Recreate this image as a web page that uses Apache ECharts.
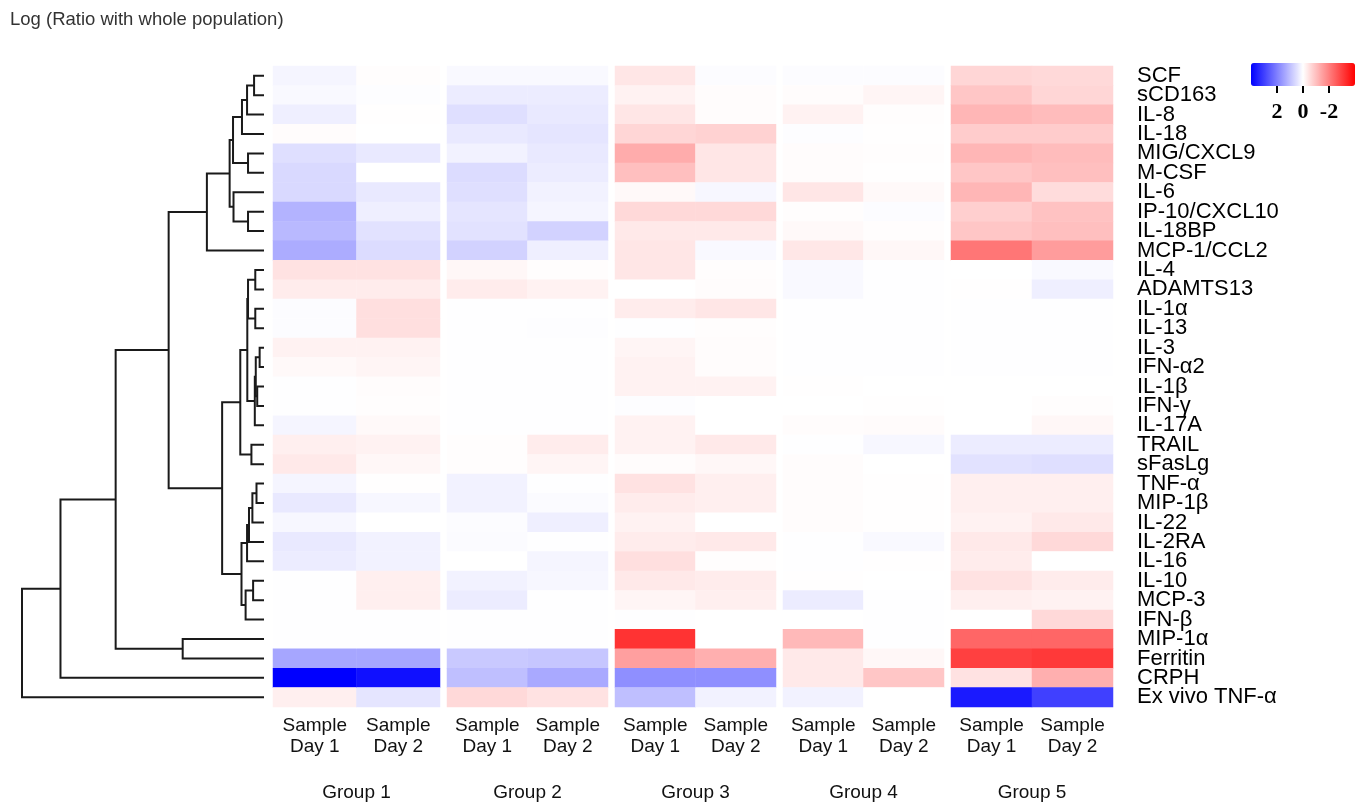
<!DOCTYPE html>
<html>
<head>
<meta charset="utf-8">
<script src="https://cdn.jsdelivr.net/npm/echarts@6/dist/echarts.min.js"></script>
<style>
  html, body { margin: 0; padding: 0; background: #ffffff; }
  #chart { width: 1363px; height: 806px; }
</style>
</head>
<body>
<div id="chart"></div>
<script>
// Analytes, top to bottom (dendrogram leaf order)
const markers = [
  'SCF', 'sCD163', 'IL-8', 'IL-18', 'MIG/CXCL9', 'M-CSF', 'IL-6', 'IP-10/CXCL10',
  'IL-18BP', 'MCP-1/CCL2', 'IL-4', 'ADAMTS13', 'IL-1α', 'IL-13', 'IL-3', 'IFN-α2',
  'IL-1β', 'IFN-γ', 'IL-17A', 'TRAIL', 'sFasLg', 'TNF-α', 'MIP-1β', 'IL-22',
  'IL-2RA', 'IL-16', 'IL-10', 'MCP-3', 'IFN-β', 'MIP-1α', 'Ferritin', 'CRPH',
  'Ex vivo TNF-α'
];
const sampleLabels = ['Sample\nDay 1', 'Sample\nDay 2'];
const groupNames = ['Group 1', 'Group 2', 'Group 3', 'Group 4', 'Group 5'];

// Log ratio with whole population, one array per sample column (same order as markers)
const group1Day1 = [0.15, 0.1, 0.25, -0.05, 0.5, 0.6, 0.6, 1.2, 1.1, 1.3, -0.45, -0.3, 0.05, 0.04, -0.2, -0.1, 0.02, 0.02, 0.15, -0.25, -0.35, 0.15, 0.35, 0.12, 0.35, 0.3, 0.02, 0.02, 0.02, 0.02, 1.4, 4.0, -0.25];
const group1Day2 = [-0.03, 0.03, -0.02, 0.0, 0.35, 0.0, 0.35, 0.25, 0.45, 0.55, -0.45, -0.3, -0.5, -0.5, -0.2, -0.15, -0.05, -0.03, -0.1, -0.2, -0.12, -0.01, 0.12, 0.0, 0.2, 0.2, -0.25, -0.25, 0.02, 0.02, 1.4, 3.75, 0.4];
const group2Day1 = [0.1, 0.3, 0.5, 0.35, 0.2, 0.55, 0.5, 0.4, 0.45, 0.7, -0.12, -0.3, 0.02, 0.02, 0.02, 0.02, 0.02, 0.01, 0.02, -0.03, -0.03, 0.2, 0.2, 0.05, 0.07, 0.0, 0.2, 0.3, 0.02, 0.02, 0.85, 1.0, -0.6];
const group2Day2 = [0.1, 0.3, 0.35, 0.4, 0.35, 0.3, 0.2, 0.15, 0.7, 0.25, -0.03, -0.2, 0.02, 0.03, 0.02, 0.02, 0.02, 0.01, 0.02, -0.3, -0.15, 0.02, 0.07, 0.25, 0.02, 0.15, 0.12, 0.02, 0.02, 0.02, 0.9, 1.35, -0.45];
const group3Day1 = [-0.4, -0.2, -0.4, -0.65, -1.3, -1.0, -0.1, -0.6, -0.35, -0.4, -0.4, 0.0, -0.3, 0.02, -0.15, -0.2, -0.2, 0.03, -0.2, -0.2, -0.05, -0.45, -0.3, -0.2, -0.3, -0.5, -0.35, -0.15, 0.02, -3.2, -1.5, 1.75, 1.0];
const group3Day2 = [0.05, -0.05, -0.05, -0.7, -0.4, -0.4, 0.12, -0.6, -0.35, 0.1, -0.03, -0.05, -0.4, -0.03, -0.05, -0.05, -0.2, 0.0, 0.0, -0.35, -0.12, -0.25, -0.25, 0.0, -0.35, -0.03, -0.3, -0.25, 0.0, 0.0, -1.25, 1.75, 0.2];
const group4Day1 = [0.05, -0.05, -0.2, 0.03, -0.05, -0.05, -0.4, -0.03, -0.1, -0.38, 0.1, 0.1, 0.02, 0.02, 0.02, 0.02, -0.02, 0.0, -0.04, 0.02, -0.05, -0.04, -0.04, -0.04, 0.02, 0.02, -0.02, 0.3, 0.0, -1.1, -0.35, -0.35, 0.2];
const group4Day2 = [0.05, -0.15, -0.03, -0.02, -0.03, -0.02, -0.1, 0.04, -0.03, -0.12, 0.02, 0.02, 0.02, 0.02, 0.02, 0.02, 0.0, -0.02, -0.06, 0.12, 0.0, -0.02, -0.02, -0.02, 0.1, -0.02, 0.0, 0.02, 0.02, 0.02, -0.12, -0.9, 0.0];
const group5Day1 = [-0.65, -0.9, -1.15, -0.8, -1.15, -0.9, -1.15, -0.75, -0.9, -2.15, 0.0, -0.02, 0.02, 0.02, 0.02, 0.02, 0.0, 0.0, 0.0, 0.3, 0.45, -0.25, -0.25, -0.2, -0.35, -0.3, -0.45, -0.25, 0.0, -2.4, -3.0, -0.45, 3.6];
const group5Day2 = [-0.6, -0.65, -1.05, -0.8, -1.05, -1.0, -0.55, -0.95, -1.0, -1.55, 0.1, 0.25, 0.02, 0.02, 0.02, 0.02, 0.0, -0.03, -0.12, 0.3, 0.5, -0.25, -0.25, -0.35, -0.6, 0.0, -0.3, -0.2, -0.6, -2.4, -3.1, -1.25, 3.0];

// Colour key ticks
const colorTicks = [2, 0, -2];

// Row clustering: [left, right, height]; negative = leaf (1-based row), positive = earlier merge (1-based)
const merges = [
  [-1, -2, 0.041], [1, -3, 0.070], [2, -4, 0.091], [-5, -6, 0.066], [3, 4, 0.128],
  [-8, -9, 0.066], [-7, 6, 0.126], [5, 7, 0.142], [8, -10, 0.236],
  [-11, -12, 0.036], [-13, -14, 0.036], [10, 11, 0.066],
  [-15, -16, 0.018], [-17, -18, 0.028], [13, 14, 0.034], [15, -19, 0.038], [12, 16, 0.069],
  [-20, -21, 0.052], [17, 18, 0.098],
  [-22, -23, 0.031], [20, -24, 0.048], [21, -25, 0.062], [22, -26, 0.070],
  [-27, -28, 0.045], [24, -29, 0.076], [23, 25, 0.093],
  [19, 26, 0.173], [9, 27, 0.394], [-30, -31, 0.336], [28, 29, 0.613],
  [30, -32, 0.841], [31, -33, 1.0]
];

// ---- derived structures ----
const groupColumns = [
  [group1Day1, group1Day2], [group2Day1, group2Day2], [group3Day1, group3Day2],
  [group4Day1, group4Day2], [group5Day1, group5Day2]
];

const nodes = [];
merges.forEach(([a, b, h]) => {
  const ca = a < 0 ? { y: -a - 1, h: 0 } : nodes[a - 1];
  const cb = b < 0 ? { y: -b - 1, h: 0 } : nodes[b - 1];
  nodes.push({ y: (ca.y + cb.y) / 2, h: h, ca: ca, cb: cb });
});
const linkData = nodes.map(n => [n.ca.h, n.ca.y, n.h, n.cb.y, n.cb.h]);

const FONT = "'Liberation Sans', Arial, Helvetica, sans-serif";
const blockLeft = [273, 447, 615, 783, 951];
const blockWidth = [167, 161, 161, 161, 162];
const TOP = 66, HEIGHT = 641;

const grids = [], xAxes = [], yAxes = [], series = [];

groupColumns.forEach((cols, g) => {
  grids.push({ left: blockLeft[g], top: TOP, width: blockWidth[g], height: HEIGHT, outerBoundsMode: 'none' });
  xAxes.push({
    type: 'category', gridIndex: g, data: sampleLabels, position: 'bottom',
    axisLine: { show: false }, axisTick: { show: false }, splitLine: { show: false },
    axisLabel: { interval: 0, fontFamily: FONT, fontSize: 19, lineHeight: 21, color: '#111', margin: 8 },
    name: groupNames[g], nameLocation: 'middle', nameGap: 76,
    nameTextStyle: { fontFamily: FONT, fontSize: 19, color: '#111' }
  });
  const last = g === groupColumns.length - 1;
  yAxes.push({
    type: 'category', gridIndex: g, data: markers, inverse: true,
    position: 'right', show: last,
    axisLine: { show: false }, axisTick: { show: false }, splitLine: { show: false },
    axisLabel: { interval: 0, fontFamily: FONT, fontSize: 22, color: '#000', margin: 24, align: 'left' }
  });
  const data = [];
  cols.forEach((arr, c) => arr.forEach((v, r) => data.push([c, r, v])));
  series.push({
    type: 'heatmap', xAxisIndex: g, yAxisIndex: g, data: data,
    itemStyle: { borderWidth: 0 }, emphasis: { disabled: true }, progressive: 0
  });
});

// Dendrogram panel
const dg = grids.length;
grids.push({ left: 22, top: TOP, width: 242, height: HEIGHT, outerBoundsMode: 'none' });
xAxes.push({ type: 'value', gridIndex: dg, min: 0, max: 1, inverse: true, show: false });
yAxes.push({ type: 'value', gridIndex: dg, min: -0.5, max: markers.length - 0.5, inverse: true, show: false });
series.push({
  type: 'custom', xAxisIndex: dg, yAxisIndex: dg, data: linkData, clip: false, silent: true,
  encode: { x: [0, 2, 4], y: [1, 3] },
  renderItem: function (params, api) {
    const hA = api.value(0), yA = api.value(1), h = api.value(2), yB = api.value(3), hB = api.value(4);
    return {
      type: 'polyline',
      shape: { points: [api.coord([hA, yA]), api.coord([h, yA]), api.coord([h, yB]), api.coord([hB, yB])] },
      style: { stroke: '#1a1a1a', lineWidth: 2, fill: null }
    };
  }
});

// Colour key tick axis
const kg = grids.length;
grids.push({ left: 1251, top: 63, width: 104, height: 23, outerBoundsMode: 'none' });
xAxes.push({
  type: 'value', gridIndex: kg, min: -4, max: 4, inverse: true, position: 'bottom',
  axisLine: { show: false }, splitLine: { show: false },
  axisTick: { show: true, customValues: colorTicks, length: 7, lineStyle: { color: '#000', width: 2 } },
  axisLabel: {
    customValues: colorTicks, fontFamily: "'Liberation Serif', 'Times New Roman', serif",
    fontWeight: 'bold', fontSize: 22, color: '#000', margin: 15
  }
});
yAxes.push({ type: 'value', gridIndex: kg, show: false, min: 0, max: 1 });

const option = {
  backgroundColor: '#ffffff',
  animation: false,
  title: {
    text: 'Log (Ratio with whole population)', left: 5, top: 5,
    textStyle: { fontFamily: FONT, fontSize: 18.5, fontWeight: 'normal', color: '#333' }
  },
  grid: grids,
  xAxis: xAxes,
  yAxis: yAxes,
  visualMap: {
    type: 'continuous', min: -4, max: 4, seriesIndex: [0, 1, 2, 3, 4],
    inRange: { color: ['#ff0000', '#ffffff', '#0000ff'] },
    orient: 'horizontal', inverse: true, calculable: false, hoverLink: false,
    left: 1251, top: 63, itemWidth: 23, itemHeight: 104, padding: 0
  },
  series: series
};

const chart = echarts.init(document.getElementById('chart'));
chart.setOption(option);
</script>
</body>
</html>
